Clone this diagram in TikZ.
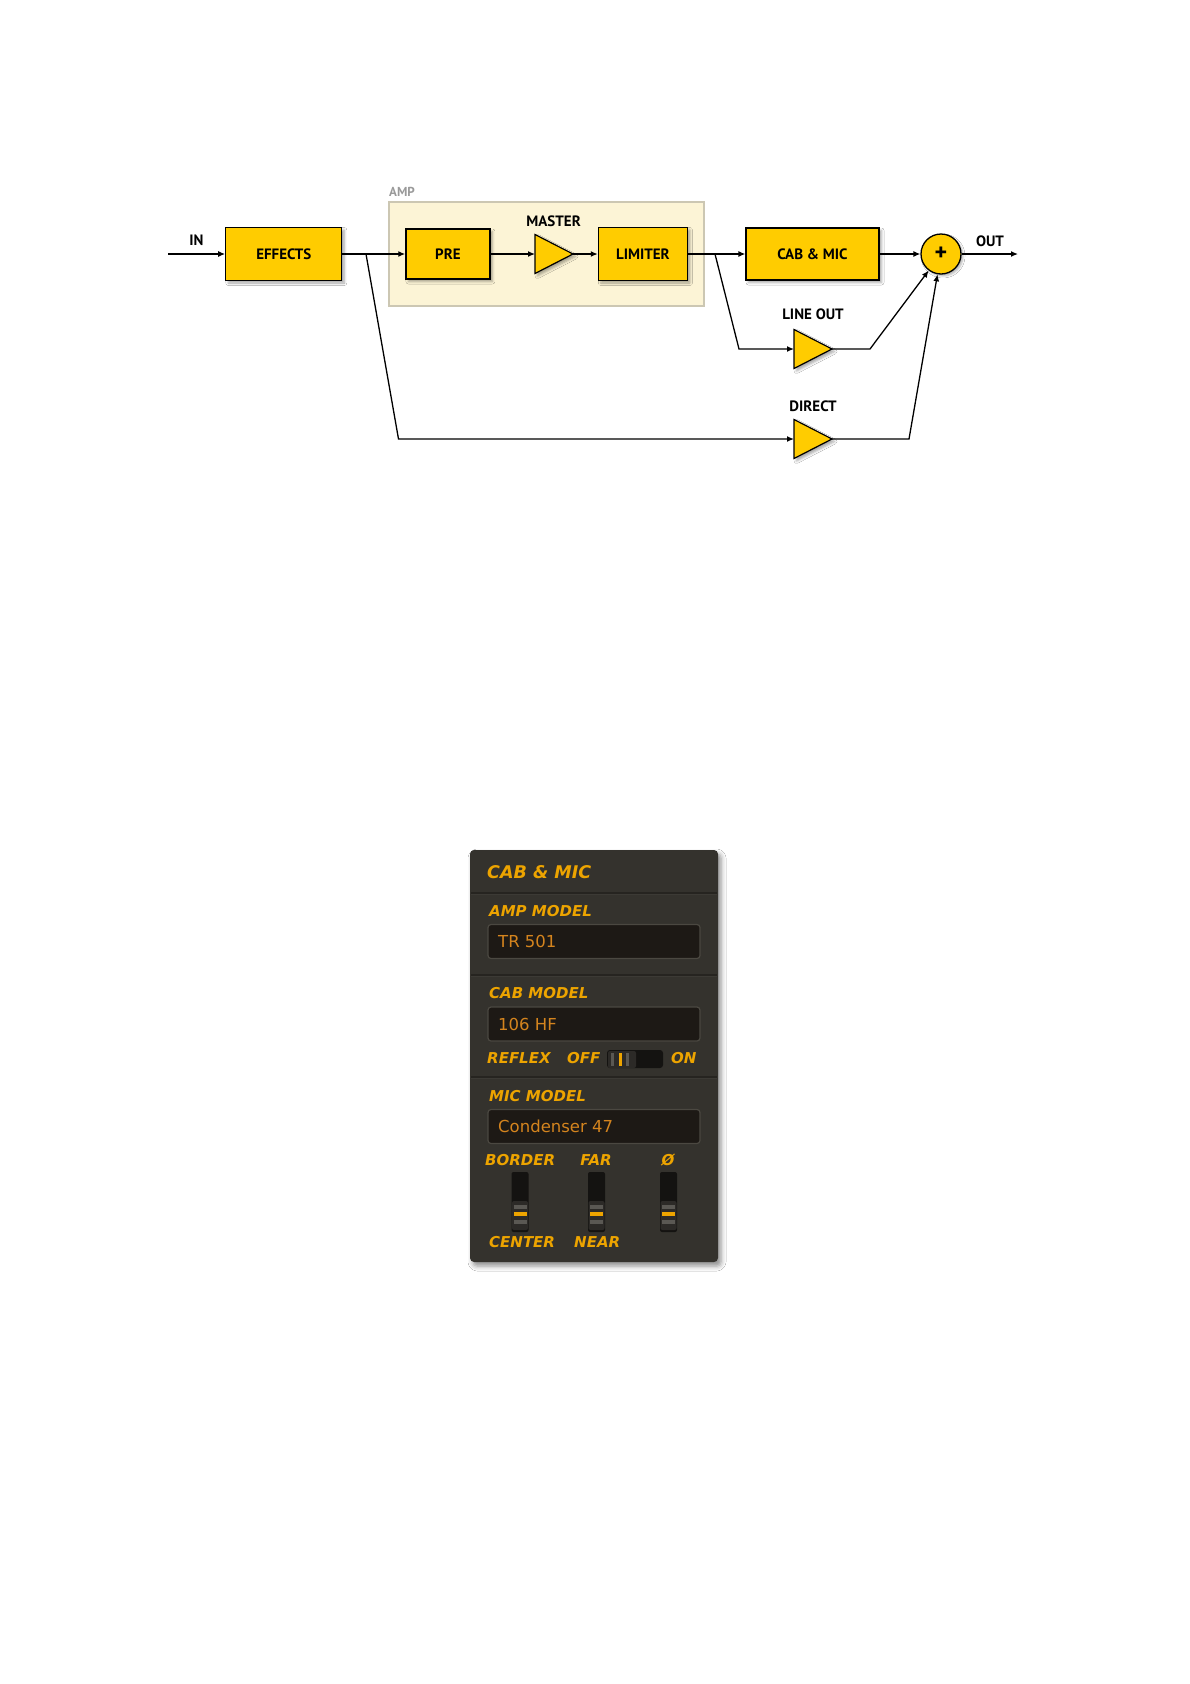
\documentclass[tikz,border=0pt]{standalone}
\usepackage{fontspec}
\setmainfont{PT Sans}
\newfontfamily\dvs{DejaVu Sans}
\usetikzlibrary{arrows.meta,shadows.blur,calc}
\definecolor{ygold}{HTML}{FFCC00}
\definecolor{ampfill}{HTML}{FCF4D6}
\definecolor{ampline}{HTML}{CCC7B3}
\definecolor{ampgrey}{HTML}{9A9A9A}
\definecolor{panel}{HTML}{34322D}
\definecolor{panelsep}{HTML}{262420}
\definecolor{panelhi}{HTML}{3C3A35}
\definecolor{lcdbg}{HTML}{1D1915}
\definecolor{lcdedge}{HTML}{4B4841}
\definecolor{lbl}{HTML}{EDA400}
\definecolor{lcdtxt}{HTML}{D4841E}
\definecolor{slot}{HTML}{141311}
\definecolor{knob}{HTML}{2C2A27}
\definecolor{stripe}{HTML}{5A5853}
\tikzset{
  ampl/.pic={
    \path[draw=black, line width=1.2pt, fill=ygold, line join=miter,
      blur shadow={shadow xshift=2.5pt, shadow yshift=-2.5pt, shadow blur radius=2.5pt, shadow opacity=35}]
      (0,-19.5) -- (38,0) -- (0,19.5) -- cycle;
    \coordinate (-in) at (0,0);
    \coordinate (-out) at (38,0);
  },
  slider/.pic={
    \path[fill=slot, rounded corners=2pt] (-8.5,0) rectangle (8.5,60);
    \path[fill=knob, rounded corners=2pt] (-8,29) rectangle (8,58);
    \path[fill=stripe] (-6.5,33) rectangle (6.5,36.5);
    \path[fill=lbl] (-6.5,40) rectangle (6.5,43.5);
    \path[fill=stripe] (-6.5,48) rectangle (6.5,51.5);
  }
}
\begin{document}
\begin{tikzpicture}[x=1pt,y=-1pt,
  box/.style={draw=black, line width=1.3pt, fill=ygold, inner sep=0pt,
    font=\bfseries\fontsize{15}{17}\selectfont,
    blur shadow={shadow xshift=2.5pt, shadow yshift=-2.5pt, shadow blur radius=2.5pt, shadow opacity=35}},
  conn/.style={line width=1.3pt},
  arr/.style={conn, -{Latex[length=7pt,width=6pt]}},
  lab/.style={font=\bfseries\fontsize{15}{17}\selectfont, inner sep=0pt},
  plab/.style={text=lbl, font=\dvs\bfseries\itshape\fontsize{15}{17}\selectfont, inner sep=0pt},
  lcd/.style={draw=lcdedge, line width=1.2pt, fill=lcdbg, rounded corners=3pt, minimum width=212pt, minimum height=34pt, inner sep=0pt},
  lcdt/.style={text=lcdtxt, font=\dvs\fontsize{16.5}{18}\selectfont, inner sep=0pt, anchor=west},
  sepline/.style={draw=panelsep, line width=1.3pt},
  sephi/.style={draw=panelhi, line width=0.8pt}
]
\useasboundingbox (0,0) rectangle (1190,1684);
\fill[white] (0,0) rectangle (1190,1684);

% ---------- block diagram ----------
\node[draw=ampline, line width=2pt, fill=ampfill, minimum width=315pt, minimum height=104pt, inner sep=0pt] (ampbox) at (546.8,254) {};
\node[anchor=west, text=ampgrey, font=\bfseries\fontsize{13}{15}\selectfont, inner sep=0pt] (amplab) at (389,192) {AMP};

\node[box, minimum width=116pt, minimum height=53pt] (effects) at (283.8,254) {EFFECTS};
\node[box, minimum width=84pt, minimum height=50pt] (pre) at (447.9,254) {PRE};
\node[box, minimum width=89pt, minimum height=53pt] (limiter) at (642.9,254) {LIMITER};
\node[box, minimum width=133pt, minimum height=52pt] (cab) at (812.5,254) {CAB \& MIC};
\node[circle, draw=black, line width=1.3pt, fill=ygold, minimum size=40pt, inner sep=0pt,
  font=\bfseries\fontsize{24}{24}\selectfont,
  blur shadow={shadow xshift=2pt, shadow yshift=-2pt, shadow blur radius=2pt, shadow opacity=30}] (sum) at (941,254) {+};

\pic (master) at (535,254) {ampl};
\pic (lineout) at (794,349) {ampl};
\pic (direct) at (794,439) {ampl};

\node[lab] (inlab) at (196.5,240) {IN};
\node[lab] (masterlab) at (553.6,221) {MASTER};
\node[lab] (outlab) at (990,241) {OUT};
\node[lab] (lineoutlab) at (813,314) {LINE OUT};
\node[lab] (directlab) at (813,406) {DIRECT};

\coordinate (instart) at (168,254);
\coordinate (b1) at (366,254);
\coordinate (c1) at (398.5,439);
\coordinate (b2) at (715,254);
\coordinate (c2) at (739,349);
\coordinate (c3) at (870,349);
\coordinate (c4) at (909,439);
\coordinate (outend) at (1018,254);

\draw[arr] (instart) -- (effects.west);
\draw[arr] (effects.east) -- (pre.west);
\draw[arr] (b1) -- (c1) -- (direct-in);
\draw[arr] (pre.east) -- (master-in);
\draw[arr] (master-out) -- (limiter.west);
\draw[arr] (limiter.east) -- (cab.west);
\draw[arr] (b2) -- (c2) -- (lineout-in);
\draw[arr] (cab.east) -- (sum.west);
\draw[arr] (lineout-out) -- (c3) -- (sum);
\draw[arr] (direct-out) -- (c4) -- (sum);
\draw[arr] (sum.east) -- (outend);

% ---------- CAB & MIC panel ----------
\path[fill=panel, rounded corners=4pt,
  blur shadow={shadow xshift=3pt, shadow yshift=-4pt, shadow blur radius=5pt, shadow opacity=45}]
  (470,850) rectangle (718,1262);
\node[panel, minimum width=248pt, minimum height=412pt, inner sep=0pt] (panelbox) at (594,1056) {};

\node[plab, anchor=west, font=\dvs\bfseries\itshape\fontsize{17.5}{19}\selectfont] (hdr) at (487,872) {CAB \& MIC};
\draw[sepline] (471,893) -- (717,893);
\draw[sephi] (471,894.5) -- (717,894.5);

\node[plab, anchor=west] (ampmodel) at (489,911) {AMP MODEL};
\node[lcd] (ampdisp) at (594,941.5) {};
\node[lcdt] (ampval) at (498,941) {TR 501};

\draw[sepline] (471,975) -- (717,975);
\draw[sephi] (471,976.5) -- (717,976.5);

\node[plab, anchor=west] (cabmodel) at (489,993) {CAB MODEL};
\node[lcd] (cabdisp) at (594,1024) {};
\node[lcdt] (cabval) at (498,1024) {106 HF};

\node[plab, anchor=west] (reflex) at (487,1058) {REFLEX};
\node[plab, anchor=west] (off) at (567,1058) {OFF};
\node[plab, anchor=west] (on) at (671,1058) {ON};
\node[draw=none, fill=slot, rounded corners=3pt, minimum width=56pt, minimum height=18pt, inner sep=0pt] (switch) at (635,1059) {};
\path[fill=knob, rounded corners=2pt] (608,1051) rectangle (636,1068);
\path[fill=stripe] (611,1053) rectangle (614,1066);
\path[fill=lbl] (618.5,1053) rectangle (622,1066);
\path[fill=stripe] (626,1053) rectangle (629,1066);

\draw[sepline] (471,1077) -- (717,1077);
\draw[sephi] (471,1078.5) -- (717,1078.5);

\node[plab, anchor=west] (micmodel) at (489,1096) {MIC MODEL};
\node[lcd] (micdisp) at (594,1126.5) {};
\node[lcdt] (micval) at (498,1126) {Condenser 47};

\node[plab, anchor=west] (border) at (485,1160) {BORDER};
\node[plab] (far) at (596,1160) {FAR};
\node[plab] (phase) at (668,1160) {Ø};
\pic (s1) at (520,1172) {slider};
\pic (s2) at (596.5,1172) {slider};
\pic (s3) at (668.5,1172) {slider};
\node[plab, anchor=west] (center) at (489,1242) {CENTER};
\node[plab, anchor=west] (near) at (574,1242) {NEAR};
\end{tikzpicture}
\end{document}
